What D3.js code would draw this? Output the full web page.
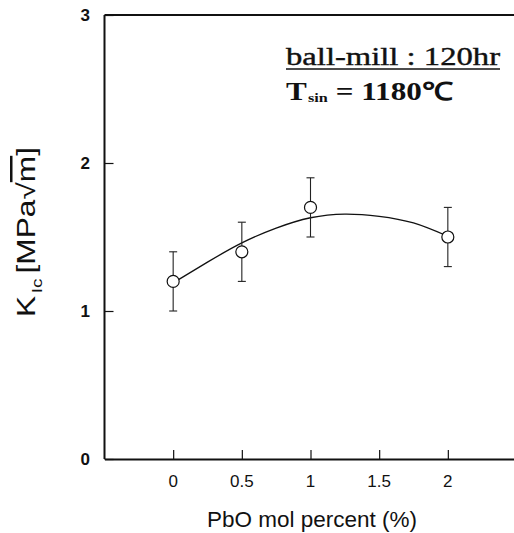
<!DOCTYPE html>
<html>
<head>
<meta charset="utf-8">
<script src="https://cdn.jsdelivr.net/npm/d3@7"></script>
<style>
  html, body { margin: 0; padding: 0; background: #fff; }
  svg { display: block; }
</style>
</head>
<body>
<svg id="chart" width="514" height="533"></svg>
<script>
// PbO content (mol %) and measured fracture toughness K_Ic (MPa·√m)
const pbo = [0, 0.5, 1, 2];
const kic = [1.2, 1.4, 1.7, 1.5];
const kicErr = [0.2, 0.2, 0.2, 0.2];

// Hand-drawn trend curve through the data
const fitX = [0, 0.25, 0.5, 0.75, 1, 1.25, 1.5, 1.75, 2];
const fitY = [1.19, 1.33, 1.46, 1.56, 1.63, 1.655, 1.64, 1.595, 1.505];

const xTicks = [0, 0.5, 1, 1.5, 2];
const xTickLabels = ["0", "0.5", "1", "1.5", "2"];
const yTicks = [0, 1, 2, 3];
const yTickLabels = ["0", "1", "2", "3"];

const svg = d3.select("#chart");

const x = d3.scaleLinear().domain([-0.5, 2.5]).range([104.5, 516.5]);
const y = d3.scaleLinear().domain([0, 3]).range([459, 15]);

const ink = "#111";

// Frame: left and top lines
svg.append("line").attr("x1", x(-0.5)).attr("x2", x(-0.5)).attr("y1", y(3)).attr("y2", y(0))
  .attr("stroke", ink).attr("stroke-width", 2);
svg.append("line").attr("x1", x(-0.5)).attr("x2", 514).attr("y1", y(3)).attr("y2", y(3))
  .attr("stroke", ink).attr("stroke-width", 2);

// X axis with inward ticks
const xAxis = d3.axisTop(x).tickValues(xTicks).tickSize(9).tickSizeOuter(0).tickFormat("");
const gx = svg.append("g").attr("transform", `translate(0,${y(0)})`).call(xAxis);
gx.select(".domain").attr("stroke", ink).attr("stroke-width", 2);
gx.selectAll(".tick line").attr("stroke", ink).attr("stroke-width", 1.2);

svg.append("g").selectAll("text").data(xTicks).join("text")
  .attr("x", d => x(d)).attr("y", 487)
  .attr("text-anchor", "middle")
  .attr("font-family", "Liberation Sans, Arial, sans-serif")
  .attr("font-size", 17).attr("fill", ink)
  .text((d, i) => xTickLabels[i]);

// Y axis with inward ticks
const yAxis = d3.axisRight(y).tickValues(yTicks).tickSize(9).tickSizeOuter(0).tickFormat("");
const gy = svg.append("g").attr("transform", `translate(${x(-0.5)},0)`).call(yAxis);
gy.select(".domain").remove();
gy.selectAll(".tick line").attr("stroke", ink).attr("stroke-width", 1.2);

svg.append("g").selectAll("text").data(yTicks).join("text")
  .attr("x", 90).attr("y", d => y(d) + 6)
  .attr("text-anchor", "end")
  .attr("font-family", "Liberation Sans, Arial, sans-serif")
  .attr("font-size", 17).attr("font-weight", "bold").attr("fill", ink)
  .text((d, i) => yTickLabels[i]);

// Trend curve
const line = d3.line().x(d => x(d[0])).y(d => y(d[1])).curve(d3.curveNatural);
svg.append("path")
  .datum(fitX.map((v, i) => [v, fitY[i]]))
  .attr("d", line)
  .attr("fill", "none").attr("stroke", ink).attr("stroke-width", 1.3);

// Error bars
const pts = pbo.map((v, i) => ({ x: v, y: kic[i], e: kicErr[i] }));
const eb = svg.append("g").attr("stroke", "#222").attr("stroke-width", 1.1);
eb.selectAll(".v").data(pts).join("line")
  .attr("x1", d => x(d.x)).attr("x2", d => x(d.x))
  .attr("y1", d => y(d.y + d.e)).attr("y2", d => y(d.y - d.e));
eb.selectAll(".t").data(pts).join("line")
  .attr("x1", d => x(d.x) - 4).attr("x2", d => x(d.x) + 4)
  .attr("y1", d => y(d.y + d.e)).attr("y2", d => y(d.y + d.e));
eb.selectAll(".b").data(pts).join("line")
  .attr("x1", d => x(d.x) - 4).attr("x2", d => x(d.x) + 4)
  .attr("y1", d => y(d.y - d.e)).attr("y2", d => y(d.y - d.e));

// Open circle markers
svg.append("g").selectAll("circle").data(pts).join("circle")
  .attr("cx", d => x(d.x)).attr("cy", d => y(d.y)).attr("r", 6)
  .attr("fill", "#fff").attr("stroke", ink).attr("stroke-width", 1.2);

// Axis titles
svg.append("text")
  .attr("x", 312).attr("y", 527)
  .attr("text-anchor", "middle")
  .attr("font-family", "Liberation Sans, Arial, sans-serif")
  .attr("font-size", 22).attr("fill", ink)
  .attr("textLength", 210).attr("lengthAdjust", "spacingAndGlyphs")
  .text("PbO mol percent (%)");

const yt = svg.append("text")
  .attr("transform", "translate(35,317) rotate(-90)")
  .attr("font-family", "Liberation Sans, Arial, sans-serif")
  .attr("font-size", 25).attr("fill", ink)
  .attr("textLength", 170).attr("lengthAdjust", "spacingAndGlyphs");
yt.append("tspan").text("K");
yt.append("tspan").attr("font-size", 15).attr("dy", 7).attr("dx", 2).text("Ic");
yt.append("tspan").attr("dy", -7).attr("dx", 4).text("[MPa√");
yt.append("tspan").attr("text-decoration", "overline").text("m");
yt.append("tspan").text("]");

// Processing conditions
svg.append("text")
  .attr("x", 286).attr("y", 65)
  .attr("font-family", "Liberation Serif, Times New Roman, serif")
  .attr("font-size", 26).attr("fill", ink)
  .attr("stroke", ink).attr("stroke-width", 0.4)
  .attr("textLength", 214).attr("lengthAdjust", "spacingAndGlyphs")
  .text("ball-mill : 120hr");
svg.append("line").attr("x1", 286).attr("x2", 500).attr("y1", 69).attr("y2", 69)
  .attr("stroke", ink).attr("stroke-width", 1.5);

const t2 = svg.append("text")
  .attr("x", 286).attr("y", 100)
  .attr("font-family", "Liberation Serif, Times New Roman, serif")
  .attr("font-size", 25).attr("font-weight", "bold").attr("fill", ink)
  .attr("textLength", 167).attr("lengthAdjust", "spacingAndGlyphs");
t2.append("tspan").text("T");
t2.append("tspan").attr("font-size", 13).attr("dy", 2).attr("dx", 1).text("sin");
t2.append("tspan").attr("dy", -2).text(" = 1180℃");
</script>
</body>
</html>
